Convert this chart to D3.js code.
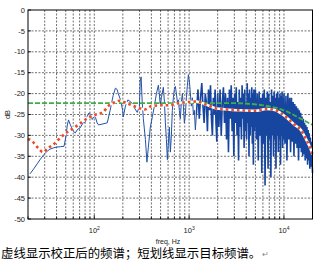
<!DOCTYPE html>
<html>
<head>
<meta charset="utf-8">
<script src="https://cdn.jsdelivr.net/npm/d3@7"></script>
<style>
  body { margin: 0; background: #fff; }
  svg text { font-family: "Liberation Sans", Arial, sans-serif; }
</style>
</head>
<body>
<div id="chart"></div>
<script>
// axis ticks
var yTicks = [0, -5, -10, -15, -20, -25, -30, -35, -40, -45, -50];
var xDecades = [{base: "10", exp: "2", f: 100}, {base: "10", exp: "3", f: 1000}, {base: "10", exp: "4", f: 10000}];
var xGrid = [20, 30, 40, 50, 60, 70, 80, 90, 100, 200, 300, 400, 500, 600, 700, 800, 900,
             1000, 2000, 3000, 4000, 5000, 6000, 7000, 8000, 9000, 10000, 20000];

// measured (corrected) spectrum, [freq Hz, dB]
var lowSpectrum = [[21,-39.2],[23,-38],[25,-36.8],[27,-35.7],[29,-34.8],[31,-34],[34,-33.3],[37,-33],
  [40,-32.8],[44,-32.7],[48,-32.6],[50,-30.5],[52,-27.5],[53.5,-26.3],[56,-27.5],[60,-29],[63,-29.4],
  [67,-28.5],[71,-28.2],[76,-27],[80,-26.8],[84,-25.5],[88,-24.6],[92,-25],[95,-26.2],[99,-25.5],
  [103,-25.7],[107,-27],[111,-27.5]];

var midSpectrum = [[137,-27],[147,-24],[158,-20.5],[167,-18.7],[174,-19],[179,-20],[189,-21.5],[199,-24],
  [202,-25.6],[213,-23],[226,-21.5],[243,-22],[253,-22.5],[266,-23.5],[284,-24.5],[299,-23],[305,-17],
  [312,-16],[320,-22],[329,-26],[346,-31],[359,-36.4],[371,-33],[390,-28],[410,-25.5],[430,-23],
  [452,-20],[474,-18],[485,-20],[497,-23],[510,-21],[535,-18.5],[549,-22],[562,-27],[576,-31],
  [590,-35.8],[604,-32],[619,-28],[634,-34],[650,-30],[665,-24],[682,-21],[699,-19],[716,-18.3],
  [734,-20],[752,-22],[770,-21.5],[789,-24],[808,-26],[828,-22],[849,-20],[870,-23],[891,-27],
  [913,-25],[936,-21],[959,-18],[982,-15.5],[1006,-17],[1031,-20],[1056,-23],[1082,-21],[1110,-25],
  [1136,-24],[1164,-28.7],[1193,-25]];

var highSpectrum = [[1193,-25],[1240,-19],[1280,-26],[1320,-21],[1360,-17.5],[1400,-23],[1440,-27],[1480,-20],
  [1520,-22],[1560,-29],[1600,-19],[1640,-24],[1680,-18],[1720,-26],[1760,-30],[1800,-21],[1840,-25],
  [1880,-19],[1920,-27],[1960,-31.5],
  [2000,-20],[2060,-28],[2120,-19],[2180,-30],[2240,-22],[2300,-18.5],[2360,-27],[2420,-20],[2480,-31],
  [2540,-21],[2600,-34],[2660,-19],[2720,-26],[2780,-18],[2840,-29],[2900,-21],[2960,-35],[3020,-20],
  [3080,-27],[3140,-18.5],[3200,-30],[3260,-22],[3320,-36],[3380,-19],[3440,-28],[3500,-21],[3560,-31],
  [3620,-18],[3680,-26],[3740,-20],[3800,-33],[3860,-19],[3920,-29],[3980,-22],[4040,-31],[4100,-17.5],
  [4160,-27],[4220,-20],[4280,-35],[4340,-19],[4400,-30],[4460,-21],[4520,-28],[4580,-18.5],[4640,-32],
  [4700,-20],[4760,-37],[4820,-19],[4880,-29],[4940,-21],
  [5000,-19],[5120,-31],[5240,-20],[5360,-36],[5480,-19.5],[5600,-30],[5720,-21],[5840,-39],[5960,-20],
  [6080,-32],[6200,-19],[6320,-42],[6440,-21],[6560,-30],[6680,-19.5],[6800,-38],[6920,-20],[7040,-31],
  [7160,-22],[7280,-40],[7400,-19],[7520,-30],[7640,-20.5],[7760,-35],[7880,-19.5],[8000,-31],[8120,-21],
  [8240,-38],[8360,-20],[8480,-30],[8600,-19.5],[8720,-34],[8840,-21],[8960,-31],[9080,-20],[9200,-37],
  [9320,-20.5],[9440,-30],[9560,-19.5],[9680,-33],[9800,-21],[9920,-31],
  [10000,-20],[10250,-32],[10500,-20.5],[10750,-36],[11000,-20],[11250,-31],[11500,-21],[11750,-34],
  [12000,-21],[12250,-31.5],[12500,-22],[12750,-35],[13000,-22.5],[13250,-32],[13500,-23],[13750,-33],
  [14000,-23.5],[14250,-36],[14500,-24],[14750,-33],[15000,-24.6],[15250,-34],[15500,-25.5],[15750,-35],
  [16000,-26],[16250,-34.5],[16500,-27],[16750,-36],[17000,-27.5],[17250,-35.5],[17500,-28],[17750,-37],
  [18000,-28.7],[18250,-36],[18500,-29.5],[18750,-38],[19000,-30.5],[19250,-37.5],[19500,-31.5],[20000,-39]];

// smoothed corrected spectrum (dotted)
var corrected = [[20,-30.8],[22.6,-31.6],[25.5,-33],[28.8,-34],[32.6,-33],[36.7,-32.3],[41.5,-31.1],
  [52,-29.2],[63,-28],[74,-26.8],[86,-25.8],[102,-25.1],[124,-24.4],[140,-23],[160,-22.2],[185,-21.7],
  [215,-22.2],[250,-22.8],[300,-23.5],[340,-23.8],[400,-23],[500,-22.8],[600,-22.8],[800,-22.2],
  [1000,-22],[1200,-21.9],[1500,-22.6],[1900,-23.5],[2500,-23.8],[3500,-24],[5000,-24.1],[6500,-23.7],
  [8000,-23.9],[9300,-24.7],[11000,-26],[13000,-27.5],[15100,-28.7],[17000,-30.8],[18500,-32.5],[20000,-34.5]];

// target spectrum (dashed)
var target = [[20,-22.3],[3000,-22.3],[6000,-22.8],[10000,-24],[15000,-26],[20000,-27.5]];

var caption = "虚线显示校正后的频谱；短划线显示目标频谱。";

var W = 319, H = 267;
var margin = {top: 10, right: 6.5, bottom: 48, left: 28};
var width = W - margin.left - margin.right,
    height = H - margin.top - margin.bottom;

var x = d3.scaleLog().domain([20, 20000]).range([0, width]);
var y = d3.scaleLinear().domain([-50, 0]).range([height, 0]);

var svg = d3.select("#chart").append("svg")
    .attr("width", W)
    .attr("height", H);

var g = svg.append("g")
    .attr("transform", "translate(" + margin.left + "," + margin.top + ")");

// grid
g.selectAll(".vgrid").data(xGrid.slice(1, -1)).enter().append("line")
    .attr("x1", function(d) { return x(d); }).attr("x2", function(d) { return x(d); })
    .attr("y1", 0).attr("y2", height)
    .style("stroke", "#333").style("stroke-width", 0.7).style("stroke-dasharray", "2,1.5");

g.selectAll(".hgrid").data(yTicks.slice(1, -1)).enter().append("line")
    .attr("x1", 0).attr("x2", width)
    .attr("y1", function(d) { return y(d); }).attr("y2", function(d) { return y(d); })
    .style("stroke", "#333").style("stroke-width", 0.7).style("stroke-dasharray", "2,1.5");

var line = d3.line()
    .x(function(d) { return x(d[0]); })
    .y(function(d) { return y(d[1]); });

// measured spectrum
g.append("path")
    .datum(lowSpectrum.concat(midSpectrum))
    .attr("d", line)
    .style("fill", "none")
    .style("stroke", "#2553a8")
    .style("stroke-width", 1);

g.append("path")
    .datum(highSpectrum)
    .attr("d", line)
    .style("fill", "none")
    .style("stroke", "#1746a0")
    .style("stroke-width", 1.6);

var smooth = d3.line()
    .curve(d3.curveMonotoneX)
    .x(function(d) { return x(d[0]); })
    .y(function(d) { return y(d[1]); });

// target (green dashes)
g.append("path")
    .datum(target)
    .attr("d", smooth)
    .style("fill", "none")
    .style("stroke", "#3fae49")
    .style("stroke-width", 1.8)
    .style("stroke-dasharray", "5,2");

// corrected (red dots over white)
g.append("path")
    .datum(corrected)
    .attr("d", smooth)
    .style("fill", "none")
    .style("stroke", "#fff")
    .style("stroke-width", 2.6);

g.append("path")
    .datum(corrected)
    .attr("d", smooth)
    .style("fill", "none")
    .style("stroke", "#ea4a2a")
    .style("stroke-width", 2.6)
    .style("stroke-dasharray", "2.6,3");

// frame
g.append("rect")
    .attr("width", width).attr("height", height)
    .style("fill", "none").style("stroke", "#000").style("stroke-width", 1);

// inward ticks
g.selectAll(".xtick").data(xGrid).enter().append("line")
    .attr("x1", function(d) { return x(d); }).attr("x2", function(d) { return x(d); })
    .attr("y1", height).attr("y2", function(d) { return xDecades.some(function(t) { return t.f === d; }) ? height - 4 : height - 2.5; })
    .style("stroke", "#000").style("stroke-width", 0.8);

g.selectAll(".ytick").data(yTicks).enter().append("line")
    .attr("x1", 0).attr("x2", 3)
    .attr("y1", function(d) { return y(d); }).attr("y2", function(d) { return y(d); })
    .style("stroke", "#000").style("stroke-width", 0.8);

// y labels
g.selectAll(".ylab").data(yTicks).enter().append("text")
    .attr("x", -3)
    .attr("y", function(d) { return y(d); })
    .attr("dy", "0.35em")
    .attr("text-anchor", "end")
    .style("font-size", "7.5px")
    .style("fill", "#222")
    .text(function(d) { return d; });

// x decade labels
var xl = g.selectAll(".xlab").data(xDecades).enter().append("text")
    .attr("x", function(d) { return x(d.f); })
    .attr("y", height + 14)
    .attr("text-anchor", "middle")
    .style("font-size", "7.5px")
    .style("fill", "#222");
xl.append("tspan").text(function(d) { return d.base; });
xl.append("tspan").attr("dy", -3.5).style("font-size", "5px").text(function(d) { return d.exp; });

g.append("text")
    .attr("x", x(600))
    .attr("y", height + 25)
    .attr("text-anchor", "middle")
    .style("font-size", "7px")
    .style("fill", "#222")
    .text("freq, Hz");

g.append("text")
    .attr("transform", "rotate(-90)")
    .attr("x", -y(-25))
    .attr("y", -18)
    .attr("text-anchor", "middle")
    .style("font-size", "7.5px")
    .style("fill", "#222")
    .text("dB");

// caption
var cap = svg.append("text")
    .attr("x", 1)
    .attr("y", 257.5)
    .style("font-family", "'Noto Sans CJK SC', sans-serif")
    .style("font-size", "12.4px")
    .style("fill", "#000")
    .text(caption);
var capLen = cap.node().getComputedTextLength();

svg.append("text")
    .attr("x", 1 + capLen + 0.5)
    .attr("y", 257)
    .style("font-size", "8px")
    .style("fill", "#888")
    .text("↵");
</script>
</body>
</html>
